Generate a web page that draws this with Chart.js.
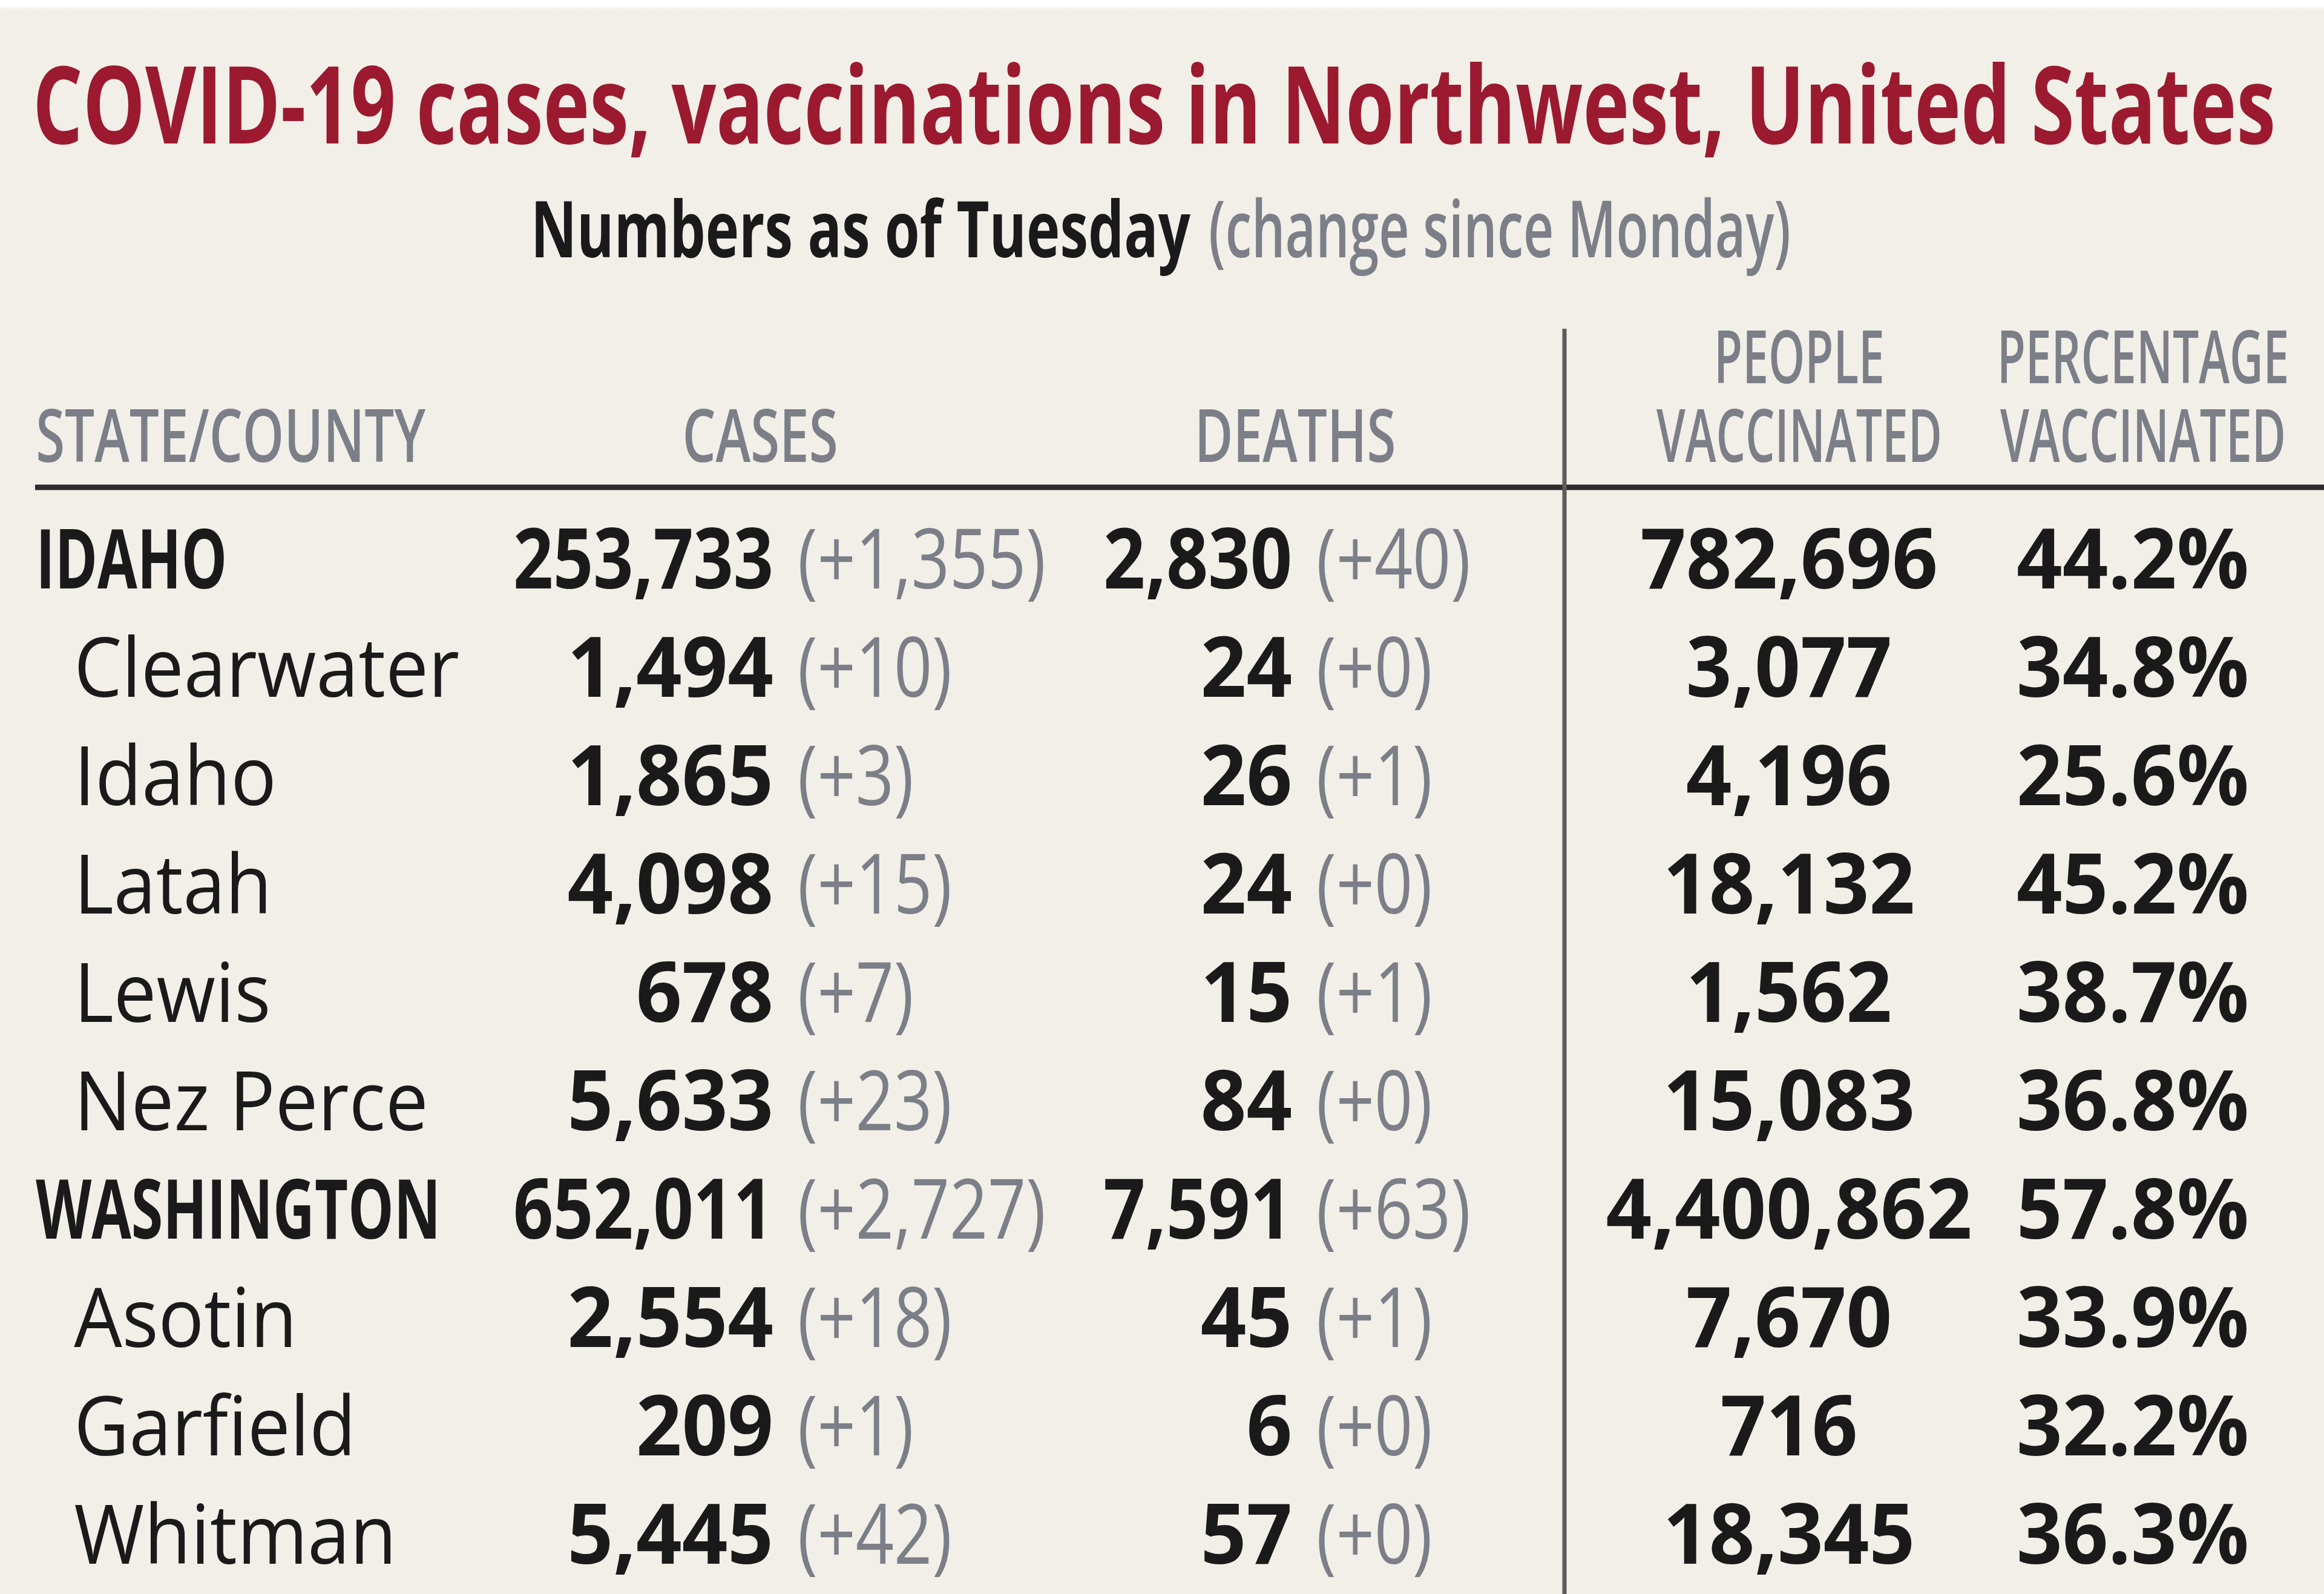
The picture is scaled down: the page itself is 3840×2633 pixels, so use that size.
<!DOCTYPE html>
<html>
<head>
<meta charset="utf-8">
<title>COVID-19 cases, vaccinations in Northwest, United States</title>
<script src="https://cdn.jsdelivr.net/npm/chart.js@4/dist/chart.umd.min.js"></script>
<style>
  html, body { margin: 0; padding: 0; background: #f2efe8; }
  #wrap { width: 3840px; height: 2633px; position: relative; }
</style>
</head>
<body>
<div id="wrap"><canvas id="chart-table"></canvas></div>
<script>
const rowLabels = ['IDAHO', 'Clearwater', 'Idaho', 'Latah', 'Lewis', 'Nez Perce',
  'WASHINGTON', 'Asotin', 'Garfield', 'Whitman'];
const isState = [true, false, false, false, false, false, true, false, false, false];
const cases = [253733, 1494, 1865, 4098, 678, 5633, 652011, 2554, 209, 5445];
const casesChange = [1355, 10, 3, 15, 7, 23, 2727, 18, 1, 42];
const deaths = [2830, 24, 26, 24, 15, 84, 7591, 45, 6, 57];
const deathsChange = [40, 0, 1, 0, 1, 0, 63, 1, 0, 0];
const peopleVaccinated = [782696, 3077, 4196, 18132, 1562, 15083, 4400862, 7670, 716, 18345];
const pctVaccinated = [44.2, 34.8, 25.6, 45.2, 38.7, 36.8, 57.8, 33.9, 32.2, 36.3];
const headers = [['STATE/COUNTY'], ['CASES'], ['DEATHS'], ['PEOPLE', 'VACCINATED'], ['PERCENTAGE', 'VACCINATED']];
const titleText = 'COVID-19 cases, vaccinations in Northwest, United States';
const subtitleMain = 'Numbers as of Tuesday';
const subtitleNote = '(change since Monday)';

// column anchors on the x scale (0-100 across the page)
const colX = { label: 1.54, cases: 33.28, deaths: 55.6, people: 76.98, pct: 91.77 };

const FAMILY = '"Open Sans", "Noto Sans", sans-serif';
const ink = '#1b1a1a';
const grey = '#7c7f87';
const red = '#9b1a2f';

// each style is squeezed horizontally so a sample string hits the printed width
const styles = {
  title: { font: `bold 178px ${FAMILY}`, color: red, sample: [titleText, 3706] },
  subMain: { font: `bold 130px ${FAMILY}`, color: ink, sample: [subtitleMain, 1090] },
  subNote: { font: `600 130px ${FAMILY}`, color: grey, sample: [subtitleNote, 962] },
  header: { font: `600 121px ${FAMILY}`, color: grey, sample: ['STATE/COUNTY', 644] },
  headerNarrow: { font: `600 121px ${FAMILY}`, color: grey, sample: ['VACCINATED', 472] },
  state: { font: `bold 136px ${FAMILY}`, color: ink, sample: ['WASHINGTON', 669] },
  county: { font: `500 136px ${FAMILY}`, color: ink, sample: ['Clearwater', 637] },
  num: { font: `bold 138px ${FAMILY}`, color: ink, sample: ['18,345', 416] },
  change: { font: `500 138px ${FAMILY}`, color: grey, sample: ['(+1,355)', 410] },
};

function fmt(n) {
  return new Intl.NumberFormat('en-US').format(n);
}

function squeeze(ctx, st) {
  if (st.sx) return st.sx;
  ctx.save();
  ctx.font = st.font;
  st.sx = st.sample[1] / ctx.measureText(st.sample[0]).width;
  ctx.restore();
  return st.sx;
}

function textWidth(ctx, st, text) {
  ctx.save();
  ctx.font = st.font;
  const w = ctx.measureText(text).width * squeeze(ctx, st);
  ctx.restore();
  return w;
}

function drawText(ctx, st, text, x, y, align, maxWidth) {
  const sx = squeeze(ctx, st);
  ctx.save();
  ctx.font = st.font;
  ctx.fillStyle = st.color;
  ctx.textBaseline = 'alphabetic';
  ctx.textAlign = align || 'left';
  ctx.translate(x, y);
  ctx.scale(sx, 1);
  if (maxWidth) ctx.fillText(text, 0, 0, maxWidth / sx);
  else ctx.fillText(text, 0, 0);
  ctx.restore();
}

const CAP_HALF = 49; // half cap height of the row text
const CHANGE_GAP = 40;
const COUNTY_INDENT = 63;
// the big state totals are set tighter than the county rows
const CASES_MAX = 430;
const DEATHS_MAX = 312;

const tablePlugin = {
  id: 'tableText',
  beforeDraw(chart) {
    const { ctx, width, height } = chart;
    ctx.save();
    ctx.fillStyle = '#f2efe8';
    ctx.fillRect(0, 0, width, height);
    const g = ctx.createLinearGradient(0, 0, 0, 16);
    g.addColorStop(0, '#ffffff');
    g.addColorStop(0.6, '#ffffff');
    g.addColorStop(1, '#f2efe8');
    ctx.fillStyle = g;
    ctx.fillRect(0, 0, width, 16);
    ctx.restore();
  },
  afterDatasetsDraw(chart) {
    const { ctx } = chart;
    const x = chart.scales.x;

    // title block
    drawText(ctx, styles.title, titleText, 54, 237);
    drawText(ctx, styles.subMain, subtitleMain, 877, 425);
    const mainW = textWidth(ctx, styles.subMain, subtitleMain);
    drawText(ctx, styles.subNote, subtitleNote, 877 + mainW + 30, 425);

    // column headers
    const headAnchors = [
      [x.getPixelForValue(colX.label), 'left', styles.header],
      [1256, 'center', styles.header],
      [2140, 'center', styles.header],
      [2973, 'center', styles.headerNarrow],
      [3541, 'center', styles.headerNarrow],
    ];
    headers.forEach((lines, i) => {
      const [hx, align, st] = headAnchors[i];
      lines.forEach((line, j) => {
        const y = 763 - (lines.length - 1 - j) * 130;
        drawText(ctx, st, line, hx, y, align);
      });
    });

    // rules
    ctx.save();
    ctx.strokeStyle = '#2a2a2a';
    ctx.lineWidth = 9;
    ctx.beginPath();
    ctx.moveTo(58, 805);
    ctx.lineTo(chart.width, 805);
    ctx.stroke();
    ctx.strokeStyle = '#5c5c5c';
    ctx.lineWidth = 7;
    ctx.beginPath();
    ctx.moveTo(2585, 543);
    ctx.lineTo(2585, chart.height);
    ctx.stroke();
    ctx.restore();

    // cells, placed at the points the scales computed
    chart.data.datasets.forEach((ds, di) => {
      const meta = chart.getDatasetMeta(di);
      meta.data.forEach((pt, i) => {
        const y = pt.y + CAP_HALF;
        if (ds.kind === 'label') {
          const st = isState[i] ? styles.state : styles.county;
          drawText(ctx, st, rowLabels[i], pt.x + (isState[i] ? 0 : COUNTY_INDENT), y, 'left');
        } else if (ds.kind === 'withChange') {
          drawText(ctx, styles.num, fmt(ds.values[i]), pt.x, y, 'right', ds.maxWidth);
          drawText(ctx, styles.change, '(+' + fmt(ds.changes[i]) + ')', pt.x + CHANGE_GAP, y, 'left');
        } else if (ds.kind === 'count') {
          drawText(ctx, styles.num, fmt(ds.values[i]), pt.x, y, 'center');
        } else if (ds.kind === 'pct') {
          drawText(ctx, styles.num, ds.values[i].toFixed(1) + '%', pt.x, y, 'center');
        }
      });
    });
  },
};

function column(label, kind, cx, values, changes, maxWidth) {
  return {
    label,
    kind,
    values,
    changes,
    maxWidth,
    data: rowLabels.map((r) => ({ x: cx, y: r })),
    pointRadius: 0,
    pointHoverRadius: 0,
  };
}

new Chart(document.getElementById('chart-table'), {
  type: 'scatter',
  data: {
    datasets: [
      column('State/County', 'label', colX.label, rowLabels),
      column('Cases', 'withChange', colX.cases, cases, casesChange, CASES_MAX),
      column('Deaths', 'withChange', colX.deaths, deaths, deathsChange, DEATHS_MAX),
      column('People vaccinated', 'count', colX.people, peopleVaccinated),
      column('Percentage vaccinated', 'pct', colX.pct, pctVaccinated),
    ],
  },
  options: {
    responsive: true,
    maintainAspectRatio: false,
    animation: false,
    events: [],
    layout: { padding: { top: 834, bottom: 10, left: 0, right: 0 } },
    plugins: { legend: { display: false }, tooltip: { enabled: false } },
    scales: {
      x: { type: 'linear', min: 0, max: 100, display: false },
      y: { type: 'category', labels: rowLabels, offset: true, display: false },
    },
  },
  plugins: [tablePlugin],
});
</script>
</body>
</html>
